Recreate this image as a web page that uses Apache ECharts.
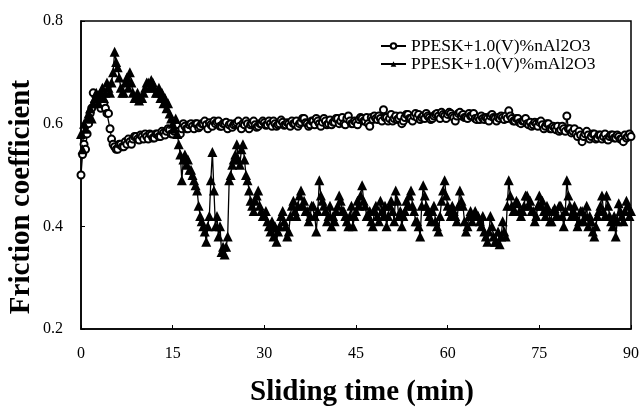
<!DOCTYPE html>
<html>
<head>
<meta charset="utf-8">
<script src="https://cdn.jsdelivr.net/npm/echarts@6/dist/echarts.min.js"></script>
<style>
html, body { margin: 0; padding: 0; background: #fff; }
#chart { width: 642px; height: 407px; }
</style>
</head>
<body>
<div id="chart"></div>
<script>
// sliding time (min), sampled every 0.25 min
var timeMin = [
  0, 0.25, 0.5, 0.75, 1, 1.25, 1.5, 1.75, 2, 2.25, 2.5, 2.75, 3, 3.25, 3.5, 3.75, 4, 4.25, 4.5, 4.75,
  5, 5.25, 5.5, 5.75, 6, 6.25, 6.5, 6.75, 7, 7.25, 7.5, 7.75, 8, 8.25, 8.5, 8.75, 9, 9.25, 9.5, 9.75,
  10, 10.25, 10.5, 10.75, 11, 11.25, 11.5, 11.75, 12, 12.25, 12.5, 12.75, 13, 13.25, 13.5, 13.75, 14, 14.25, 14.5, 14.75,
  15, 15.25, 15.5, 15.75, 16, 16.25, 16.5, 16.75, 17, 17.25, 17.5, 17.75, 18, 18.25, 18.5, 18.75, 19, 19.25, 19.5, 19.75,
  20, 20.25, 20.5, 20.75, 21, 21.25, 21.5, 21.75, 22, 22.25, 22.5, 22.75, 23, 23.25, 23.5, 23.75, 24, 24.25, 24.5, 24.75,
  25, 25.25, 25.5, 25.75, 26, 26.25, 26.5, 26.75, 27, 27.25, 27.5, 27.75, 28, 28.25, 28.5, 28.75, 29, 29.25, 29.5, 29.75,
  30, 30.25, 30.5, 30.75, 31, 31.25, 31.5, 31.75, 32, 32.25, 32.5, 32.75, 33, 33.25, 33.5, 33.75, 34, 34.25, 34.5, 34.75,
  35, 35.25, 35.5, 35.75, 36, 36.25, 36.5, 36.75, 37, 37.25, 37.5, 37.75, 38, 38.25, 38.5, 38.75, 39, 39.25, 39.5, 39.75,
  40, 40.25, 40.5, 40.75, 41, 41.25, 41.5, 41.75, 42, 42.25, 42.5, 42.75, 43, 43.25, 43.5, 43.75, 44, 44.25, 44.5, 44.75,
  45, 45.25, 45.5, 45.75, 46, 46.25, 46.5, 46.75, 47, 47.25, 47.5, 47.75, 48, 48.25, 48.5, 48.75, 49, 49.25, 49.5, 49.75,
  50, 50.25, 50.5, 50.75, 51, 51.25, 51.5, 51.75, 52, 52.25, 52.5, 52.75, 53, 53.25, 53.5, 53.75, 54, 54.25, 54.5, 54.75,
  55, 55.25, 55.5, 55.75, 56, 56.25, 56.5, 56.75, 57, 57.25, 57.5, 57.75, 58, 58.25, 58.5, 58.75, 59, 59.25, 59.5, 59.75,
  60, 60.25, 60.5, 60.75, 61, 61.25, 61.5, 61.75, 62, 62.25, 62.5, 62.75, 63, 63.25, 63.5, 63.75, 64, 64.25, 64.5, 64.75,
  65, 65.25, 65.5, 65.75, 66, 66.25, 66.5, 66.75, 67, 67.25, 67.5, 67.75, 68, 68.25, 68.5, 68.75, 69, 69.25, 69.5, 69.75,
  70, 70.25, 70.5, 70.75, 71, 71.25, 71.5, 71.75, 72, 72.25, 72.5, 72.75, 73, 73.25, 73.5, 73.75, 74, 74.25, 74.5, 74.75,
  75, 75.25, 75.5, 75.75, 76, 76.25, 76.5, 76.75, 77, 77.25, 77.5, 77.75, 78, 78.25, 78.5, 78.75, 79, 79.25, 79.5, 79.75,
  80, 80.25, 80.5, 80.75, 81, 81.25, 81.5, 81.75, 82, 82.25, 82.5, 82.75, 83, 83.25, 83.5, 83.75, 84, 84.25, 84.5, 84.75,
  85, 85.25, 85.5, 85.75, 86, 86.25, 86.5, 86.75, 87, 87.25, 87.5, 87.75, 88, 88.25, 88.5, 88.75, 89, 89.25, 89.5, 89.75,
  90
];

// PPESK+1.0(V)%nAl2O3 (open circles)
var nano = [
  0.50, 0.54, 0.56, 0.55, 0.58, 0.60, 0.62, 0.63, 0.66, 0.64, 0.64, 0.65, 0.65, 0.63, 0.66, 0.64, 0.63, 0.62, 0.62, 0.59,
  0.57, 0.56, 0.555, 0.55, 0.55, 0.56, 0.56, 0.555, 0.555, 0.565, 0.56, 0.57, 0.565, 0.56, 0.57, 0.575, 0.575, 0.57, 0.568, 0.578,
  0.575, 0.57, 0.58, 0.575, 0.57, 0.58, 0.578, 0.572, 0.572, 0.58, 0.58, 0.575, 0.575, 0.585, 0.582, 0.578, 0.585, 0.59, 0.588, 0.58,
  0.58, 0.585, 0.59, 0.595, 0.585, 0.58, 0.59, 0.60, 0.595, 0.59, 0.59, 0.598, 0.60, 0.595, 0.59, 0.60, 0.60, 0.592, 0.595, 0.60,
  0.60, 0.605, 0.598, 0.59, 0.602, 0.598, 0.595, 0.605, 0.60, 0.603, 0.605, 0.595, 0.595, 0.60, 0.60, 0.603, 0.59, 0.598, 0.60, 0.593,
  0.598, 0.60, 0.602, 0.605, 0.595, 0.59, 0.60, 0.598, 0.605, 0.60, 0.59, 0.598, 0.60, 0.605, 0.598, 0.593, 0.595, 0.60, 0.60, 0.605,
  0.602, 0.597, 0.598, 0.605, 0.60, 0.595, 0.605, 0.60, 0.595, 0.598, 0.60, 0.607, 0.603, 0.597, 0.598, 0.602, 0.60, 0.595, 0.605, 0.60,
  0.60, 0.605, 0.595, 0.60, 0.603, 0.61, 0.61, 0.602, 0.60, 0.595, 0.598, 0.605, 0.605, 0.598, 0.61, 0.605, 0.60, 0.595, 0.603, 0.61,
  0.605, 0.598, 0.60, 0.607, 0.598, 0.603, 0.603, 0.61, 0.61, 0.60, 0.605, 0.612, 0.60, 0.598, 0.61, 0.615, 0.605, 0.60, 0.60, 0.605,
  0.603, 0.598, 0.608, 0.612, 0.61, 0.605, 0.605, 0.612, 0.60, 0.595, 0.612, 0.608, 0.615, 0.61, 0.608, 0.615, 0.61, 0.605, 0.627, 0.612,
  0.612, 0.605, 0.61, 0.618, 0.605, 0.61, 0.615, 0.608, 0.61, 0.615, 0.60, 0.605, 0.612, 0.618, 0.618, 0.61, 0.61, 0.605, 0.615, 0.62,
  0.612, 0.618, 0.608, 0.612, 0.615, 0.61, 0.62, 0.615, 0.612, 0.608, 0.61, 0.615, 0.618, 0.62, 0.615, 0.61, 0.622, 0.618, 0.615, 0.61,
  0.618, 0.622, 0.62, 0.615, 0.612, 0.605, 0.615, 0.62, 0.622, 0.615, 0.618, 0.612, 0.612, 0.61, 0.62, 0.615, 0.615, 0.62, 0.61, 0.608,
  0.612, 0.608, 0.615, 0.61, 0.608, 0.612, 0.61, 0.605, 0.615, 0.618, 0.612, 0.61, 0.605, 0.612, 0.61, 0.615, 0.612, 0.608, 0.615, 0.61,
  0.625, 0.615, 0.61, 0.605, 0.605, 0.61, 0.61, 0.602, 0.60, 0.605, 0.605, 0.61, 0.60, 0.598, 0.603, 0.595, 0.598, 0.603, 0.60, 0.595,
  0.603, 0.605, 0.598, 0.59, 0.595, 0.60, 0.60, 0.59, 0.59, 0.595, 0.592, 0.588, 0.595, 0.585, 0.588, 0.595, 0.59, 0.585, 0.615, 0.59,
  0.59, 0.582, 0.585, 0.59, 0.58, 0.575, 0.585, 0.578, 0.565, 0.575, 0.58, 0.585, 0.578, 0.57, 0.575, 0.58, 0.58, 0.57, 0.572, 0.578,
  0.578, 0.57, 0.575, 0.58, 0.57, 0.568, 0.575, 0.578, 0.578, 0.572, 0.572, 0.578, 0.575, 0.57, 0.57, 0.565, 0.578, 0.572, 0.575, 0.58,
  0.575
];

// PPESK+1.0(V)%mAl2O3 (filled triangles)
var micro = [
  0.58, 0.55, 0.60, 0.59, 0.61, 0.62, 0.63, 0.61, 0.64, 0.65, 0.66, 0.64, 0.65, 0.66, 0.67, 0.65, 0.66, 0.68, 0.67, 0.66,
  0.68, 0.70, 0.74, 0.72, 0.71, 0.69, 0.67, 0.66, 0.66, 0.68, 0.69, 0.67, 0.70, 0.68, 0.66, 0.65, 0.65, 0.66, 0.645, 0.65,
  0.65, 0.66, 0.67, 0.68, 0.68, 0.67, 0.685, 0.68, 0.67, 0.66, 0.66, 0.67, 0.65, 0.66, 0.64, 0.65, 0.63, 0.64, 0.62, 0.61,
  0.60, 0.59, 0.61, 0.58, 0.56, 0.54, 0.49, 0.53, 0.54, 0.52, 0.53, 0.51, 0.51, 0.50, 0.49, 0.48, 0.47, 0.44, 0.42, 0.41,
  0.40, 0.39, 0.37, 0.40, 0.42, 0.49, 0.545, 0.47, 0.40, 0.42, 0.38, 0.40, 0.35, 0.36, 0.345, 0.36, 0.38, 0.49, 0.50, 0.52,
  0.53, 0.54, 0.56, 0.53, 0.52, 0.55, 0.56, 0.53, 0.50, 0.49, 0.47, 0.45, 0.44, 0.43, 0.45, 0.46, 0.47, 0.44, 0.43, 0.42,
  0.42, 0.43, 0.41, 0.40, 0.39, 0.41, 0.38, 0.40, 0.37, 0.39, 0.40, 0.42, 0.43, 0.41, 0.40, 0.38, 0.39, 0.42, 0.44, 0.45,
  0.43, 0.42, 0.44, 0.46, 0.47, 0.44, 0.45, 0.43, 0.43, 0.41, 0.42, 0.44, 0.44, 0.42, 0.39, 0.43, 0.49, 0.46, 0.45, 0.44,
  0.43, 0.41, 0.42, 0.44, 0.40, 0.42, 0.41, 0.43, 0.44, 0.46, 0.45, 0.43, 0.43, 0.42, 0.41, 0.40, 0.42, 0.44, 0.40, 0.42,
  0.43, 0.45, 0.44, 0.46, 0.48, 0.45, 0.44, 0.42, 0.42, 0.43, 0.41, 0.40, 0.43, 0.44, 0.42, 0.41, 0.45, 0.43, 0.42, 0.44,
  0.40, 0.42, 0.44, 0.45, 0.43, 0.41, 0.47, 0.45, 0.42, 0.43, 0.40, 0.42, 0.43, 0.45, 0.44, 0.46, 0.47, 0.44, 0.43, 0.41,
  0.41, 0.40, 0.38, 0.44, 0.48, 0.46, 0.44, 0.43, 0.42, 0.41, 0.43, 0.44, 0.41, 0.40, 0.39, 0.42, 0.45, 0.47, 0.49, 0.46,
  0.44, 0.43, 0.42, 0.44, 0.43, 0.42, 0.41, 0.44, 0.47, 0.45, 0.44, 0.41, 0.39, 0.40, 0.42, 0.43, 0.41, 0.42, 0.43, 0.42,
  0.42, 0.41, 0.40, 0.42, 0.39, 0.38, 0.37, 0.39, 0.42, 0.40, 0.38, 0.37, 0.37, 0.39, 0.365, 0.38, 0.41, 0.39, 0.38, 0.44,
  0.49, 0.46, 0.44, 0.43, 0.43, 0.45, 0.445, 0.43, 0.42, 0.43, 0.44, 0.46, 0.46, 0.44, 0.45, 0.43, 0.43, 0.41, 0.42, 0.44,
  0.46, 0.44, 0.45, 0.43, 0.42, 0.44, 0.43, 0.41, 0.41, 0.43, 0.435, 0.42, 0.42, 0.44, 0.44, 0.42, 0.40, 0.43, 0.49, 0.46,
  0.44, 0.42, 0.43, 0.44, 0.42, 0.40, 0.41, 0.43, 0.43, 0.41, 0.42, 0.44, 0.40, 0.42, 0.41, 0.39, 0.38, 0.40, 0.42, 0.43,
  0.44, 0.46, 0.43, 0.42, 0.46, 0.44, 0.42, 0.41, 0.40, 0.42, 0.38, 0.41, 0.445, 0.43, 0.42, 0.41, 0.43, 0.45, 0.44, 0.42,
  0.43
];

var xTicks = [0, 15, 30, 45, 60, 75, 90];
var yTicks = [0.2, 0.4, 0.6, 0.8];

function pairs(xs, ys) {
  return xs.map(function (x, i) { return [x, ys[i]]; });
}

var serif = 'Liberation Serif';
var chart = echarts.init(document.getElementById('chart'));

var option = {
  animation: false,
  backgroundColor: '#fff',
  grid: {
    left: 81, right: 10, top: 21, bottom: 78,
    show: true, borderColor: '#000', borderWidth: 1.5
  },
  legend: {
    orient: 'vertical',
    left: 375, top: 32,
    itemWidth: 25, itemHeight: 7, itemGap: 0,
    textStyle: { fontFamily: serif, fontSize: 17.5, color: '#000', lineHeight: 17 },
    data: ['PPESK+1.0(V)%nAl2O3', 'PPESK+1.0(V)%mAl2O3']
  },
  xAxis: {
    type: 'value',
    min: xTicks[0], max: xTicks[xTicks.length - 1], interval: 15,
    axisLine: { lineStyle: { color: '#000', width: 1.5 } },
    axisTick: { inside: true, length: 4, lineStyle: { color: '#000' } },
    splitLine: { show: false },
    axisLabel: { margin: 17, fontFamily: serif, fontSize: 16, color: '#000' }
  },
  yAxis: {
    type: 'value',
    min: yTicks[0], max: yTicks[yTicks.length - 1], interval: 0.2,
    axisLine: { show: true, lineStyle: { color: '#000', width: 1.5 } },
    axisTick: { show: true, inside: true, length: 4, lineStyle: { color: '#000' } },
    splitLine: { show: false },
    axisLabel: {
      margin: 18, fontFamily: serif, fontSize: 16, color: '#000',
      formatter: function (v) { return v.toFixed(1); }
    }
  },
  graphic: [
    {
      type: 'text', x: 22, y: 197, rotation: Math.PI / 2,
      style: {
        text: 'Friction coefficient', font: 'bold 29px "Liberation Serif"',
        fill: '#000', align: 'center', verticalAlign: 'middle'
      }
    },
    {
      type: 'text', x: 362, y: 393,
      style: {
        text: 'Sliding time (min)', font: 'bold 29px "Liberation Serif"',
        fill: '#000', align: 'center', verticalAlign: 'middle'
      }
    }
  ],
  series: [
    {
      name: 'PPESK+1.0(V)%nAl2O3',
      type: 'line',
      data: pairs(timeMin, nano),
      symbol: 'emptyCircle', symbolSize: 7,
      lineStyle: { color: '#000', width: 1.3 },
      itemStyle: { color: '#000', borderColor: '#000', borderWidth: 1.8 }
    },
    {
      name: 'PPESK+1.0(V)%mAl2O3',
      type: 'line',
      data: pairs(timeMin, micro),
      symbol: 'triangle', symbolSize: 10,
      lineStyle: { color: '#000', width: 1.3 },
      itemStyle: { color: '#000' }
    }
  ]
};

chart.setOption(option);
</script>
</body>
</html>
